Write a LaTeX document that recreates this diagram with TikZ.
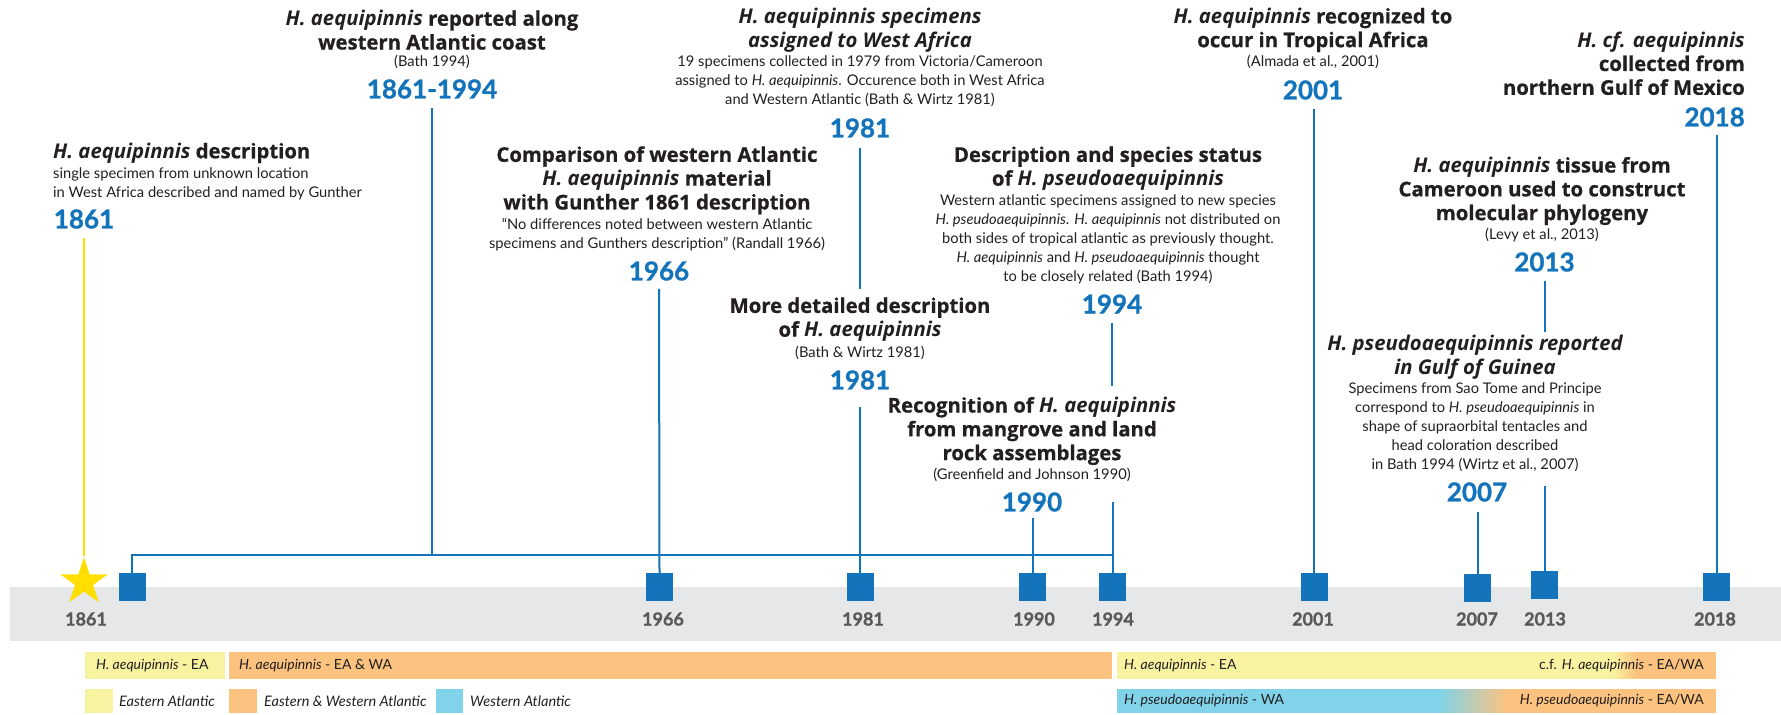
\documentclass[tikz,border=0pt]{standalone}
\usepackage{fontspec}
\setmainfont{Lato}[BoldFeatures={FakeBold=1}]
\newfontfamily\ttlfont{Open Sans}[BoldFeatures={FakeBold=0.7}]
\usetikzlibrary{shapes.geometric}
\definecolor{myblue}{RGB}{19,115,187}
\definecolor{txt}{RGB}{35,31,32}
\definecolor{axgray}{RGB}{88,89,91}
\definecolor{bandgray}{RGB}{230,231,232}
\definecolor{staryel}{RGB}{255,222,0}
\definecolor{lgyel}{RGB}{248,243,160}
\definecolor{lgorn}{RGB}{252,195,128}
\definecolor{lgblue}{RGB}{128,211,232}
\begin{document}
\begin{tikzpicture}[x=1pt,y=-1pt,
  ttl/.style={font=\ttlfont\fontsize{20.3}{23.8}\selectfont\bfseries, text=txt, align=center, inner sep=0pt},
  ttli/.style={ttl, font=\ttlfont\fontsize{20.3}{23.8}\selectfont\bfseries\itshape},
  bdy/.style={font=\fontsize{14.7}{19}\selectfont, text=txt, align=center, inner sep=0pt},
  yr/.style={font=\fontsize{26}{26}\selectfont\bfseries, text=myblue, inner sep=0pt},
  ax/.style={font=\fontsize{18}{18}\selectfont\bfseries, text=axgray, inner sep=0pt},
  mk/.style={fill=myblue, minimum width=27pt, minimum height=28pt, inner sep=0pt},
  conn/.style={draw=myblue, line width=2pt},
  lg/.style={font=\fontsize{14}{14}\selectfont, text=txt, inner sep=0pt},
  lgk/.style={font=\fontsize{14.5}{14.5}\selectfont\itshape, text=txt, inner sep=0pt, anchor=west},
]
\useasboundingbox (0,0) rectangle (1781,715);

% band
\fill[bandgray] (10,587) rectangle (1781,641);

% ---------- text blocks ----------
% 1861
\node[ttl, anchor=west] (tA) at (53,153) {\textit{H. aequipinnis} description};
\node[bdy, anchor=west, align=left] (bA) at (53,183.5) {single specimen from unknown location\\in West Africa described and named by Gunther};
\node[yr] (y1861) at (84,219) {1861};

% 1861-1994
\node[ttl] (tB) at (432,30) {\textit{H. aequipinnis} reported along\\western Atlantic coast};
\node[bdy] (cB) at (432,62) {(Bath 1994)};
\node[yr] (y18611994) at (432,89) {1861-1994};

% 1981 upper
\node[ttli] (tC) at (860,30) {H. aequipinnis specimens\\assigned to West Africa};
\node[bdy] (bC) at (860,81) {19 specimens collected in 1979 from Victoria/Cameroon\\assigned to \textit{H. aequipinnis}. Occurence both in West Africa\\and Western Atlantic (Bath \& Wirtz 1981)};
\node[yr] (y1981a) at (860,128) {1981};

% 1966
\node[ttl] (tD) at (657,180.3) {Comparison of western Atlantic\\\textit{H. aequipinnis} material\\with Gunther 1861 description};
\node[bdy] (bD) at (657,234.5) {``No differences noted between western Atlantic\\specimens and Gunthers description'' (Randall 1966)};
\node[yr] (y1966) at (659,271) {1966};

% 1981 lower
\node[ttl] (tE) at (860,319.5) {More detailed description\\of \textit{H. aequipinnis}};
\node[bdy] (cE) at (860,353) {(Bath \& Wirtz 1981)};
\node[yr] (y1981b) at (860,380) {1981};

% 1994
\node[ttl] (tF) at (1108,168.5) {Description and species status\\of \textit{H. pseudoaequipinnis}};
\node[bdy] (bF) at (1108,239) {Western atlantic specimens assigned to new species\\\textit{H. pseudoaequipinnis}. \textit{H. aequipinnis} not distributed on\\both sides of tropical atlantic as previously thought.\\\textit{H. aequipinnis} and \textit{H. pseudoaequipinnis} thought\\to be closely related (Bath 1994)};
\node[yr] (y1994) at (1112,304) {1994};

% 1990
\node[ttl] (tG) at (1032,431) {Recognition of \textit{H. aequipinnis}\\from mangrove and land\\rock assemblages};
\node[bdy] (cG) at (1032,475) {(Greenfield and Johnson 1990)};
\node[yr] (y1990) at (1032,502) {1990};

% 2001
\node[ttl] (tH) at (1313,30) {\textit{H. aequipinnis} recognized to\\occur in Tropical Africa};
\node[bdy] (cH) at (1313,62) {(Almada et al., 2001)};
\node[yr] (y2001) at (1313,90) {2001};

% 2018
\node[ttl, anchor=east, align=right] (tI) at (1745,63.3) {\textit{H. cf. aequipinnis}\\collected from\\northern Gulf of Mexico};
\node[yr, anchor=east] (y2018) at (1745,117) {2018};

% 2013
\node[ttl] (tJ) at (1542,191) {\textit{H. aequipinnis} tissue from\\Cameroon used to construct\\molecular phylogeny};
\node[bdy] (cJ) at (1542,235) {(Levy et al., 2013)};
\node[yr] (y2013) at (1544.5,262) {2013};

% 2007
\node[ttli] (tK) at (1475,357) {H. pseudoaequipinnis reported\\in Gulf of Guinea};
\node[bdy] (bK) at (1475,427.4) {Specimens from Sao Tome and Principe\\correspond to \textit{H. pseudoaequipinnis} in\\shape of supraorbital tentacles and\\head coloration described\\in Bath 1994 (Wirtz et al., 2007)};
\node[yr] (y2007) at (1477,492) {2007};

% ---------- markers ----------
\node[star, star points=5, star point ratio=2.618, fill=staryel, minimum size=50pt, inner sep=0pt] (star) at (84,582) {};
\node[mk] (m1861) at (132,587) {};
\node[mk] (m1966) at (659.5,587) {};
\node[mk] (m1981) at (860,587) {};
\node[mk] (m1990) at (1032.5,587) {};
\node[mk] (m1994) at (1112.5,587) {};
\node[mk] (m2001) at (1314,587) {};
\node[mk] (m2007) at (1477.5,588) {};
\node[mk] (m2013) at (1544.5,585) {};
\node[mk] (m2018) at (1716.5,587) {};

% axis labels
\node[ax] (a1861) at (86,619) {1861};
\node[ax] (a1966) at (663,619) {1966};
\node[ax] (a1981) at (863,619) {1981};
\node[ax] (a1990) at (1034,619) {1990};
\node[ax] (a1994) at (1113,619) {1994};
\node[ax] (a2001) at (1313,619) {2001};
\node[ax] (a2007) at (1477,619) {2007};
\node[ax] (a2013) at (1545,619) {2013};
\node[ax] (a2018) at (1715,619) {2018};

% ---------- connectors ----------
\coordinate (brB) at (432,555);
\coordinate (br1994) at (1112.5,555);
\coordinate (c1994low) at (1112.5,502);
\coordinate (c2013low) at (1544.5,486);

\draw[draw=staryel, line width=2pt, shorten <=9pt] (y1861.south) -- (star.north);
\draw[conn] (m1861.north) |- (br1994);
\draw[conn, shorten <=9pt] (y18611994.south) -- (brB);
\draw[conn, shorten <=8pt] (y1966.south) -- (m1966.north);
\draw[conn, shorten <=10pt, shorten >=8pt] (y1981a.south) -- (y1981a.south |- tE.north);
\draw[conn, shorten <=17pt] (y1981b.south) -- (m1981.north);
\draw[conn, shorten <=9pt, shorten >=11pt] (y1994.south) -- (y1994.south |- tG.north);
\draw[conn] (c1994low) -- (m1994.north);
\draw[conn, shorten <=6pt] (y1990.south -| m1990.north) -- (m1990.north);
\draw[conn, shorten <=9pt] (y2001.south -| m2001.north) -- (m2001.north);
\draw[conn, shorten <=8pt] (y2018.south -| m2018.north) -- (m2018.north);
\draw[conn, shorten <=9pt, shorten >=3pt] (y2013.south) -- (y2013.south |- tK.north);
\draw[conn] (c2013low) -- (m2013.north);
\draw[conn, shorten <=10pt] (y2007.south -| m2007.north) -- (m2007.north);

% ---------- legend bars ----------
\fill[lgyel] (85,652) rectangle (225,679);
\fill[lgorn] (229,652) rectangle (1112,679);
\fill[lgyel] (1117,652) rectangle (1613,679);
\foreach \i in {0,...,23} {
  \pgfmathsetmacro{\p}{100-100*\i/23}
  \fill[lgyel!\p!lgorn] (1613+\i,652) rectangle (1614.2+\i,679);
}
\fill[lgorn] (1636,652) rectangle (1716,679);
\fill[lgblue] (1117,689) rectangle (1439,713);
\foreach \i in {0,...,68} {
  \pgfmathsetmacro{\p}{100-100*\i/68}
  \fill[lgblue!\p!lgorn] (1439+\i,689) rectangle (1440.2+\i,713);
}
\fill[lgorn] (1507,689) rectangle (1716,713);
\fill[lgyel] (85,689) rectangle (113,713);
\fill[lgorn] (229,689) rectangle (257,713);
\fill[lgblue] (436,689) rectangle (463,713);

\node[lg, anchor=west] (l1) at (96,665.5) {\textit{H. aequipinnis} - EA};
\node[lg, anchor=west] (l2) at (239,665.5) {\textit{H. aequipinnis} - EA \& WA};
\node[lg, anchor=west] (l3) at (1124,665.5) {\textit{H. aequipinnis} - EA};
\node[lg, anchor=east] (l4) at (1704,665.5) {c.f. \textit{H. aequipinnis} - EA/WA};
\node[lg, anchor=west] (l5) at (1124,701) {\textit{H. pseudoaequipinnis} - WA};
\node[lg, anchor=east] (l6) at (1704,701) {\textit{H. pseudoaequipinnis} - EA/WA};
\node[lgk] (k1) at (119,701) {Eastern Atlantic};
\node[lgk] (k2) at (264,701) {Eastern \& Western Atlantic};
\node[lgk] (k3) at (470,701) {Western Atlantic};
\end{tikzpicture}
\end{document}
